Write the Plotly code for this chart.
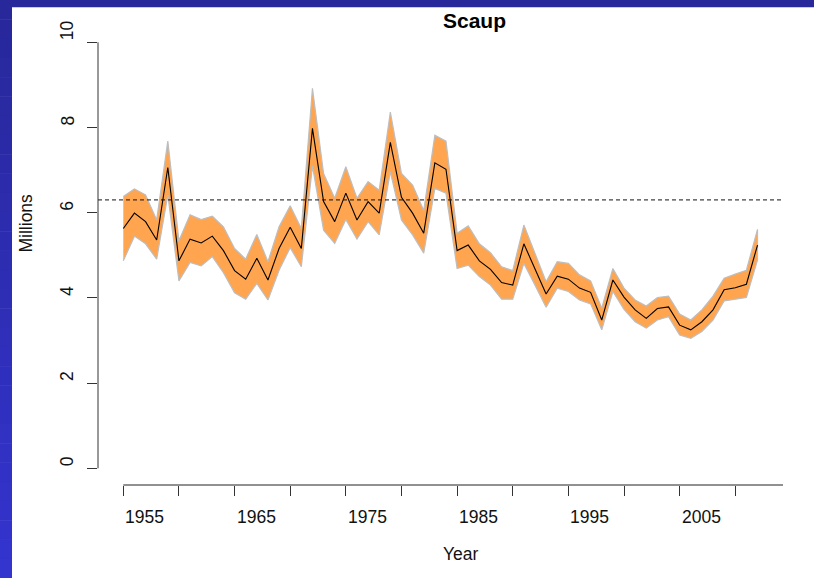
import plotly.graph_objects as go

# ---------------- data ----------------
years = list(range(1955, 2013))
mean_est = [5.63, 5.99, 5.79, 5.36, 7.06, 4.87, 5.38, 5.29, 5.45, 5.11,
            4.64, 4.44, 4.93, 4.42, 5.16, 5.66, 5.16, 7.98, 6.26, 5.79,
            6.46, 5.83, 6.26, 5.99, 7.65, 6.36, 5.99, 5.52, 7.17, 7.02,
            5.11, 5.24, 4.87, 4.67, 4.36, 4.30, 5.27, 4.67, 4.09, 4.51,
            4.44, 4.23, 4.13, 3.48, 4.42, 4.02, 3.72, 3.52, 3.75, 3.79,
            3.36, 3.25, 3.44, 3.72, 4.19, 4.24, 4.32, 5.24]
upper_ci = [6.38, 6.56, 6.42, 5.83, 7.68, 5.34, 5.95, 5.84, 5.92, 5.67,
            5.16, 4.91, 5.49, 4.85, 5.67, 6.16, 5.63, 8.92, 6.92, 6.34,
            7.08, 6.34, 6.73, 6.53, 8.36, 6.92, 6.65, 6.05, 7.82, 7.68,
            5.52, 5.69, 5.27, 5.06, 4.73, 4.64, 5.71, 5.05, 4.38, 4.85,
            4.81, 4.54, 4.40, 3.76, 4.69, 4.23, 3.95, 3.81, 4.01, 4.04,
            3.62, 3.48, 3.72, 4.04, 4.46, 4.56, 4.65, 5.61]
lower_ci = [4.87, 5.45, 5.27, 4.91, 6.42, 4.40, 4.83, 4.75, 4.97, 4.59,
            4.12, 3.97, 4.34, 3.95, 4.65, 5.18, 4.73, 7.10, 5.59, 5.28,
            5.84, 5.38, 5.79, 5.48, 6.96, 5.83, 5.48, 5.05, 6.57, 6.46,
            4.69, 4.77, 4.50, 4.30, 3.97, 3.97, 4.81, 4.30, 3.78, 4.23,
            4.15, 3.95, 3.86, 3.25, 4.15, 3.73, 3.44, 3.29, 3.48, 3.56,
            3.13, 3.05, 3.21, 3.48, 3.93, 3.97, 4.01, 4.89]
goal_level = 6.3
x_tick_vals = list(range(1955, 2015, 5))
x_label_vals = [1955, 1965, 1975, 1985, 1995, 2005]
x_labels = ["1955", "1965", "1975", "1985", "1995", "2005"]
y_tick_vals = [0, 2, 4, 6, 8, 10]
y_labels = ["0", "2", "4", "6", "8", "10"]
title_text = "Scaup"
x_title = "Year"
y_title = "Millions"

# ---------------- layout geometry ----------------
W, H = 814, 578
ML, MR, MT, MB = 98, 31, 25, 93
PW, PH = W - ML - MR, H - MT - MB
FONT = "Liberation Sans, Arial, Helvetica, sans-serif"
FS = 17.5


def px2x(px):
    return (px - ML) / PW


def py2y(py):
    return (H - MB - py) / PH


fig = go.Figure()

# confidence band
fig.add_trace(go.Scatter(
    x=years + years[::-1],
    y=upper_ci + lower_ci[::-1],
    fill="toself", fillcolor="#FFA54F",
    line=dict(color="#BEBEBE", width=1.2),
    mode="lines", hoverinfo="skip", showlegend=False))

# estimate line
fig.add_trace(go.Scatter(
    x=years, y=mean_est, mode="lines",
    line=dict(color="black", width=1.1), showlegend=False))

shapes = []
# goal dashed line
shapes.append(dict(type="line", xref="paper", yref="y", x0=0, x1=1,
                   y0=goal_level, y1=goal_level, layer="above",
                   line=dict(color="#111111", width=1, dash="4px,3px")))
# y axis line (0..10)
shapes.append(dict(type="line", xref="paper", yref="y", x0=0, x1=0,
                   y0=y_tick_vals[0], y1=y_tick_vals[-1],
                   line=dict(color="#333333", width=1)))
# x axis line
shapes.append(dict(type="line", xref="x", yref="paper", x0=x_tick_vals[0], x1=2014.29,
                   y0=0, y1=0, line=dict(color="#222222", width=1)))

# blue frame: top strip and left strip with gradient
shapes.append(dict(type="rect", xref="paper", yref="paper",
                   x0=px2x(0), x1=px2x(W), y0=py2y(0), y1=py2y(7.3),
                   fillcolor="rgb(40,40,155)", line=dict(width=0), layer="above"))
n = 30
for i in range(n):
    t = i / (n - 1)
    r = int(40 + 12 * t)
    b = int(155 + 52 * t)
    shapes.append(dict(type="rect", xref="paper", yref="paper",
                       x0=px2x(0), x1=px2x(12),
                       y0=py2y(H * i / n), y1=py2y(H * (i + 1) / n + 0.5),
                       fillcolor=f"rgb({r},{r},{b})", line=dict(width=0), layer="above"))

annotations = []
# x tick labels (left-anchored at ticks)
for v, lab in zip(x_label_vals, x_labels):
    annotations.append(dict(x=v, y=py2y(516.7), xref="x", yref="paper",
                            text=lab, showarrow=False, xanchor="left", yanchor="middle",
                            font=dict(family=FONT, size=FS, color="#111111")))
# y tick labels (rotated, bottom anchored at ticks)
for v, lab in zip(y_tick_vals, y_labels):
    annotations.append(dict(x=px2x(67), y=v, xref="paper", yref="y",
                            text=lab, showarrow=False, textangle=-90,
                            xanchor="center", yanchor="bottom",
                            font=dict(family=FONT, size=FS, color="#111111")))
# title
annotations.append(dict(x=0.5, y=py2y(20.5), xref="paper", yref="paper",
                        text="<b>" + title_text + "</b>", showarrow=False,
                        xanchor="left", yanchor="middle",
                        font=dict(family=FONT, size=21, color="black")))
# x title
annotations.append(dict(x=0.5, y=py2y(553.5), xref="paper", yref="paper",
                        text=x_title, showarrow=False, xanchor="left", yanchor="middle",
                        font=dict(family=FONT, size=FS, color="#111111")))
# y title
annotations.append(dict(x=px2x(25), y=py2y(255), xref="paper", yref="paper",
                        text=y_title, showarrow=False, textangle=-90,
                        xanchor="center", yanchor="bottom",
                        font=dict(family=FONT, size=FS, color="#111111")))

fig.update_layout(
    width=W, height=H,
    margin=dict(l=ML, r=MR, t=MT, b=MB, pad=0),
    paper_bgcolor="white", plot_bgcolor="white",
    showlegend=False,
    shapes=shapes, annotations=annotations,
    xaxis=dict(range=[1952.726, 2014.29], showgrid=False, zeroline=False,
               showline=False, tickmode="array", tickvals=x_tick_vals,
               showticklabels=False, ticks="outside", ticklen=10,
               tickcolor="#333333", tickwidth=1, fixedrange=True),
    yaxis=dict(range=[-0.392, 10.406], showgrid=False, zeroline=False,
               showline=False, tickmode="array", tickvals=y_tick_vals,
               showticklabels=False, ticks="outside", ticklen=10,
               tickcolor="#333333", tickwidth=1, fixedrange=True),
)

fig.write_html("out.html", config={"displayModeBar": False},
               post_script="document.body.style.margin='0';document.body.style.overflow='hidden';")
